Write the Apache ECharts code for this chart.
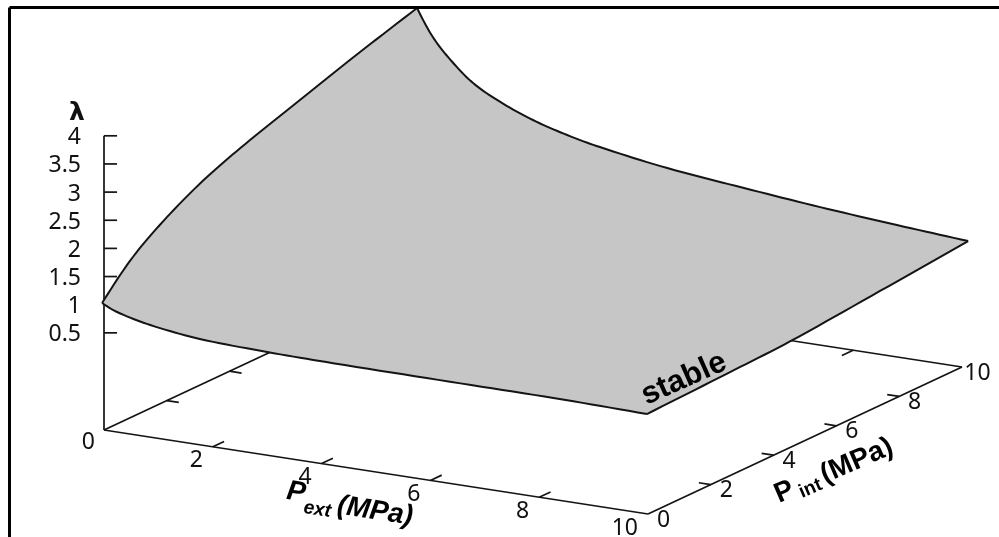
<!DOCTYPE html>
<html>
<head>
<meta charset="utf-8">
<style>html,body{margin:0;padding:0;background:#fff}#c{width:999px;height:537px}</style>
<script src="https://cdn.jsdelivr.net/npm/echarts@6/dist/echarts.min.js"></script>
</head>
<body>
<div id="c"></div>
<script>
// Tick values
const pExtTicks = [2, 4, 6, 8, 10];
const pIntTicks = [0, 2, 4, 6, 8, 10];
const lambdaTicks = [0.5, 1, 1.5, 2, 2.5, 3, 3.5, 4];
const lambdaTickLabels = ['0.5', '1', '1.5', '2', '2.5', '3', '3.5', '4'];
const originLabel = '0';

// Surface boundary: [Pext, Pint, lambda]
const edgeFront = [[0,-0.06,1.046],[0.24,0,0.906],[0.85,0,0.766],[1.76,0,0.655],[3,0,0.607],[4.21,0,0.59],[6.36,0,0.581],[8.29,0,0.575],[9.98,0,0.547]];
const edgeRight = [[9.98,0,0.547],[10,2.52,0.611],[10,4.52,0.659],[10,7.39,0.806],[10.13,9.97,1.039]];
const edgeBack  = [[10.13,9.97,1.039],[8.82,9.97,1.128],[7.41,9.97,1.236],[6.01,9.97,1.366],[4.6,9.97,1.51],[3.36,9.97,1.698],[2.76,9.97,1.822],[2.13,9.97,1.995],[1.53,9.97,2.226],[1.03,9.97,2.488],[0.61,9.97,2.842],[0.29,9.97,3.194],[0,9.97,3.666]];
const edgeLeft  = [[0,9.97,3.666],[0,7.83,3.302],[0,6.24,3.007],[0,4.65,2.71],[0,3.28,2.412],[0,2.01,2.034],[0,0.92,1.607],[0,-0.06,1.046]];

// Oblique view of the 3-D box (gnuplot style), in canvas units
function project(pe, pi, lam) {
  return [104 + 54.4 * pe + 31.4 * pi, 361 + 8.4 * pe - 14.7 * pi - 56.3 * lam];
}
const baseLevel = -1.2256;   // the floor of the box lies below lambda = 0
const INK = '#141414';
const LABEL_FONT = '"Noto Sans", sans-serif';

// Box lines and ticks
const segments = [
  [[0,0,baseLevel],[10,0,baseLevel]],
  [[10,0,baseLevel],[10,10,baseLevel]],
  [[10,10,baseLevel],[0,10,baseLevel]],
  [[0,10,baseLevel],[0,0,baseLevel]],
  [[0,0,baseLevel],[0,0,4]]
];
const tickLen = 0.22;
pExtTicks.slice(0, -1).forEach(p => {
  segments.push([[p,0,baseLevel],[p,0.36,baseLevel]]);
  segments.push([[p,10,baseLevel],[p,9.64,baseLevel]]);
});
pIntTicks.slice(1, -1).forEach(p => {
  segments.push([[0,p,baseLevel],[tickLen,p,baseLevel]]);
  segments.push([[10,p,baseLevel],[10-tickLen,p,baseLevel]]);
});
// lambda ticks stay level on the page
lambdaTicks.forEach(l => {
  segments.push([[0,0,l],[0.24,0,l + 0.24*8.4/56.3]]);
});

// Tick labels: text, 3-D anchor, text alignment, pixel offset
const labels = [];
pExtTicks.forEach(p => labels.push({t:String(p), at:[p,0,baseLevel], align:'right', dx:-10, dy:14}));
pIntTicks.forEach(p => labels.push({t:String(p), at:[10,p,baseLevel], align:'center', dx:15.5, dy:6}));
lambdaTicks.forEach((l,i) => labels.push({t:lambdaTickLabels[i], at:[0,0,l], align:'right', dx:-23, dy:2}));
labels.push({t:originLabel, at:[0,0,baseLevel], align:'right', dx:-9, dy:12});

// Smooth a read-off boundary in screen space (chord-length Hermite spline)
function spline(pts) {
  const n = pts.length;
  const t = [0];
  for (let i = 1; i < n; i++) t.push(t[i-1] + Math.hypot(pts[i][0]-pts[i-1][0], pts[i][1]-pts[i-1][1]));
  const tan = pts.map((p,i) => {
    if (i === 0 || i === n-1) return null;
    const d = t[i+1] - t[i-1];
    return [(pts[i+1][0]-pts[i-1][0])/d, (pts[i+1][1]-pts[i-1][1])/d];
  });
  // free ends: take the end slope from the last chord and its neighbour
  tan[0] = [0,1].map(d => 1.5*(pts[1][d]-pts[0][d])/(t[1]-t[0]) - 0.5*tan[1][d]);
  tan[n-1] = [0,1].map(d => 1.5*(pts[n-1][d]-pts[n-2][d])/(t[n-1]-t[n-2]) - 0.5*tan[n-2][d]);
  const out = [];
  for (let i = 0; i < n-1; i++) {
    const h = t[i+1]-t[i];
    for (let k = 0; k < 10; k++) {
      const s = k/10, s2 = s*s, s3 = s2*s;
      const h00 = 2*s3-3*s2+1, h10 = s3-2*s2+s, h01 = -2*s3+3*s2, h11 = s3-s2;
      out.push([0,1].map(d => h00*pts[i][d] + h10*h*tan[i][d] + h01*pts[i+1][d] + h11*h*tan[i+1][d]));
    }
  }
  out.push(pts[n-1].slice());
  return out;
}

const chart = echarts.init(document.getElementById('c'), null, {renderer:'canvas'});

function toPx(api, p3) { return api.coord(project(p3[0], p3[1], p3[2])); }

function textEl(x, y, text, font, align) {
  return {type:'text', x:x, y:y, z2:30, style:{text:text, font:font, fill:'#111',
    align:align||'left', verticalAlign:'middle', textAlign:align||'left', textVerticalAlign:'middle'}};
}

chart.setOption({
  animation:false,
  backgroundColor:'#fff',
  grid:{left:0,right:0,top:0,bottom:0},
  xAxis:{type:'value',min:0,max:999,show:false},
  yAxis:{type:'value',min:0,max:537,inverse:true,show:false},
  series:[
    { // box lines and ticks
      type:'custom', coordinateSystem:'cartesian2d', clip:false, silent:true, z:1,
      data:segments.map((s,i)=>[i,0]),
      renderItem:(params,api)=>{
        const s = segments[api.value(0)];
        const a = toPx(api,s[0]), b = toPx(api,s[1]);
        return {type:'line', shape:{x1:a[0],y1:a[1],x2:b[0],y2:b[1]}, style:{stroke:INK,lineWidth:1.7}};
      }
    },
    { // tick labels
      type:'custom', coordinateSystem:'cartesian2d', clip:false, silent:true, z:2,
      data:labels.map((s,i)=>[i,0]),
      renderItem:(params,api)=>{
        const l = labels[api.value(0)];
        const a = toPx(api,l.at);
        return textEl(a[0]+l.dx, a[1]+l.dy, l.t, '23px '+LABEL_FONT, l.align);
      }
    },
    { // the surface
      type:'custom', coordinateSystem:'cartesian2d', clip:false, silent:true, z:3,
      data:[[0,0]],
      renderItem:(params,api)=>{
        const curves = [edgeFront,edgeRight,edgeBack,edgeLeft].map(e => spline(e.map(p => toPx(api,p))));
        const outline = [].concat(...curves);
        const children = [{type:'polygon', shape:{points:outline}, style:{fill:'#c6c6c6',stroke:null}}];
        curves.forEach(c => children.push({type:'polyline', shape:{points:c},
          style:{fill:null,stroke:INK,lineWidth:2,lineJoin:'round'}}));
        return {type:'group', children:children};
      }
    }
  ],
  graphic:[
    {type:'line', z:50, shape:{x1:9.5,y1:7.5,x2:999,y2:7.5}, style:{stroke:'#000',lineWidth:3}},
    {type:'line', z:50, shape:{x1:9.5,y1:7.5,x2:9.5,y2:537}, style:{stroke:'#000',lineWidth:3}},
    {type:'text', z:60, x:77, y:113, style:{text:'λ', font:'bold 25px "DejaVu Sans"', fill:'#111', align:'center', verticalAlign:'middle'}},
    {type:'group', z:60, x:287, y:491, rotation:-0.15, children:[
      {type:'text', z:60, x:0, y:0, style:{text:'P', font:'italic bold 28px "Liberation Sans"', fill:'#000', verticalAlign:'middle'}},
      {type:'text', z:60, x:19, y:14, style:{text:'ext', font:'italic bold 19px "Liberation Sans"', fill:'#000', verticalAlign:'middle'}},
      {type:'text', z:60, x:52, y:7, style:{text:'(MPa)', font:'italic bold 28px "Liberation Sans"', fill:'#000', verticalAlign:'middle'}}
    ]},
    {type:'group', z:60, x:776, y:496, rotation:0.41, children:[
      {type:'text', z:60, x:0, y:0, style:{text:'P', font:'bold 28px "Liberation Sans"', fill:'#000', verticalAlign:'middle'}},
      {type:'text', z:60, x:23, y:7, style:{text:'int', font:'bold 19px "Liberation Sans"', fill:'#000', verticalAlign:'middle'}},
      {type:'text', z:60, x:50, y:0, style:{text:'(MPa)', font:'bold 28px "Liberation Sans"', fill:'#000', verticalAlign:'middle'}}
    ]},
    {type:'text', z:60, x:684, y:379, rotation:0.42, style:{text:'stable', font:'bold 31px "Liberation Sans"', fill:'#000', align:'center', verticalAlign:'middle'}}
  ]
});
</script>
</body>
</html>
